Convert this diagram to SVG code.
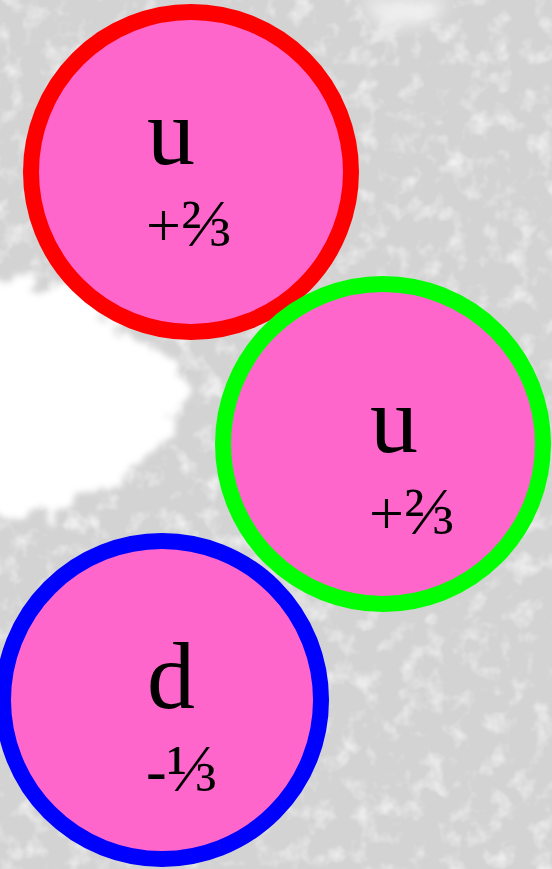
<svg xmlns="http://www.w3.org/2000/svg" width="552" height="869" viewBox="0 0 552 869">
  <style>
    .q { fill: #ff66cc; stroke-width: 16; }
    .big { font-family: "Liberation Serif", "Times New Roman", serif; font-size: 96px; fill: #000; }
    .chg { font-family: "Liberation Serif", "DejaVu Serif", serif; font-size: 62px; fill: #000; }
    .frac { font-size: 68px; }
  </style>
  <defs>
    <filter id="noise" x="0" y="0" width="100%" height="100%">
      <feTurbulence type="fractalNoise" baseFrequency="0.045" numOctaves="3" seed="7" result="t"/>
      <feColorMatrix in="t" type="matrix" values="0 0 0 0 1  0 0 0 0 1  0 0 0 0 1  0 0 0 1.6 -0.8"/>
    </filter>
    <filter id="rough" x="-30%" y="-30%" width="160%" height="160%">
      <feTurbulence type="fractalNoise" baseFrequency="0.035" numOctaves="3" seed="3" result="t"/>
      <feDisplacementMap in="SourceGraphic" in2="t" scale="60" xChannelSelector="R" yChannelSelector="G" result="d"/>
      <feGaussianBlur in="d" stdDeviation="3"/>
    </filter>
    <filter id="soft" x="-30%" y="-30%" width="160%" height="160%">
      <feGaussianBlur stdDeviation="8"/>
    </filter>
  </defs>
  <g id="background">
    <rect x="0" y="0" width="552" height="869" fill="#d3d3d3"/>
    <rect x="0" y="0" width="552" height="869" filter="url(#noise)"/>
    <path d="M-30 275 L40 280 L85 298 L120 325 L150 350 L185 370 L200 395 L185 420 L160 445 L130 475 L95 500 L50 512 L-30 520 Z" fill="#ffffff" filter="url(#rough)"/>
    <path d="M0 300 L90 310 L125 350 L150 385 L130 430 L95 465 L40 485 L0 490 Z" fill="#ffffff" filter="url(#soft)"/>
    <path d="M360 0 L450 0 L430 22 L385 28 Z" fill="#f0f0f0" filter="url(#soft)"/>
  </g>
  <g id="quark-u-red">
    <circle class="q" cx="191" cy="172" r="160" stroke="#ff0000"/>
    <text class="big" x="147" y="164">u</text>
    <text class="chg" x="146" y="246">+<tspan class="frac">⅔</tspan></text>
  </g>
  <g id="quark-u-green">
    <circle class="q" cx="383" cy="444" r="160" stroke="#00ff00"/>
    <text class="big" x="370" y="452">u</text>
    <text class="chg" x="369" y="534">+<tspan class="frac">⅔</tspan></text>
  </g>
  <g id="quark-d-blue">
    <circle class="q" cx="162" cy="700" r="159" stroke="#0000ff"/>
    <text class="big" x="147" y="708">d</text>
    <text class="chg" x="146" y="791">-<tspan class="frac">⅓</tspan></text>
  </g>
  <g id="connectors"/>
</svg>
